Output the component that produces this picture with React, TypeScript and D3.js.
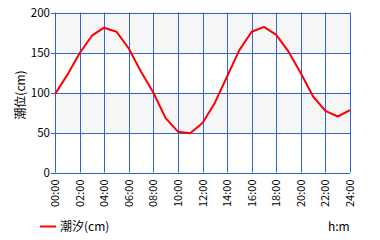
import React from "react";
import * as d3 from "d3";

const hours = d3.range(0, 25);
const tide = [98, 122, 149, 171, 181, 176, 155, 126, 100, 68, 51, 49, 62, 87, 120, 153, 176, 182, 172, 151, 124, 95, 77, 70, 78];
const yTicks = [0, 50, 100, 150, 200];
const xTicks = [0, 2, 4, 6, 8, 10, 12, 14, 16, 18, 20, 22, 24];
const xTickLabels = ["00:00", "02:00", "04:00", "06:00", "08:00", "10:00", "12:00", "14:00", "16:00", "18:00", "20:00", "22:00", "24:00"];
const bands = [[150, 200], [50, 100]];

const W = 380, H = 240;
const L = 55, R = 350, T = 12.5, B = 172.5;
const font = "'Noto Sans CJK JP', sans-serif";
const grid = "#3064d4";

export default function App() {
  const x = d3.scaleLinear().domain([0, 24]).range([L, R]);
  const y = d3.scaleLinear().domain([0, 200]).range([B, T]);
  const line = d3.line<number>().x((_, i) => x(hours[i])).y((d) => y(d));
  return (
    <svg width={W} height={H} style={{ position: "absolute", left: 0, top: 0, background: "#fff" }}>
      {bands.map(([a, b], i) => (
        <rect key={i} x={L} y={y(b)} width={R - L} height={y(a) - y(b)} fill="#f6f6f6" />
      ))}
      {xTicks.map((t) => (
        <line key={"vx" + t} x1={Math.round(x(t)) + 0.5} x2={Math.round(x(t)) + 0.5} y1={T} y2={B} stroke={grid} strokeWidth={1} />
      ))}
      {yTicks.map((t) => (
        <line key={"hy" + t} x1={L} x2={R} y1={Math.round(y(t)) + 0.5} y2={Math.round(y(t)) + 0.5} stroke={grid} strokeWidth={1} />
      ))}
      {yTicks.map((t) => (
        <line key={"ty" + t} x1={L - 4} x2={L} y1={Math.round(y(t)) + 0.5} y2={Math.round(y(t)) + 0.5} stroke={grid} strokeWidth={1} />
      ))}
      {yTicks.map((t) => (
        <text key={"ly" + t} x={L - 5} y={y(t)} dy="0.35em" textAnchor="end" fontFamily={font} fontSize={11.5} fill="#000">{t}</text>
      ))}
      {xTicks.map((t, i) => (
        <text key={"lx" + t} transform={`translate(${x(t) + 4},${B + 7}) rotate(-90)`} textAnchor="end" fontFamily={font} fontSize={11} fill="#000">{xTickLabels[i]}</text>
      ))}
      <path d={line(tide) || ""} fill="none" stroke="#ff0000" strokeWidth={2} strokeLinejoin="round" />
      <text transform={`translate(25,95) rotate(-90)`} textAnchor="middle" fontFamily={font} fontSize={12} fill="#000">潮位(cm)</text>
      <line x1={40} x2={56} y1={226.5} y2={226.5} stroke="#ff0000" strokeWidth={2} />
      <text x={60} y={227} dy="0.35em" fontFamily={font} fontSize={12} fill="#000">潮汐(cm)</text>
      <text x={328} y={227} dy="0.35em" fontFamily={font} fontSize={12} fill="#000">h:m</text>
    </svg>
  );
}
